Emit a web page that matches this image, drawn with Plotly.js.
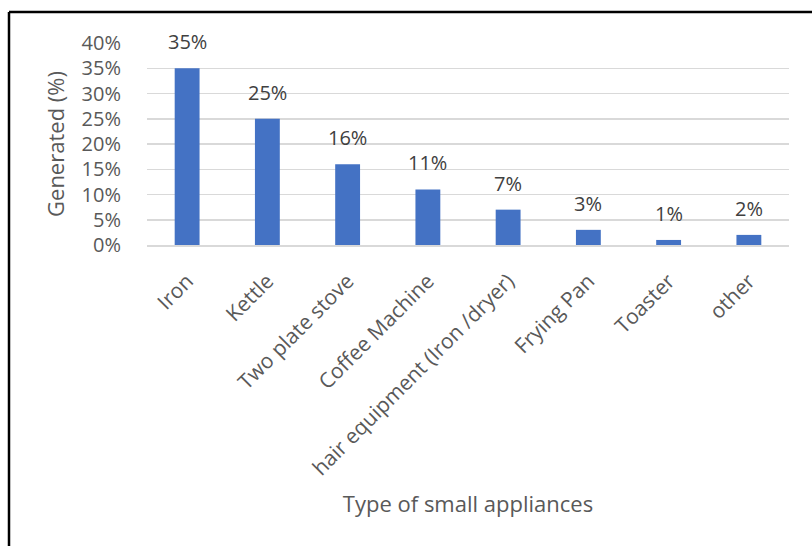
<!DOCTYPE html>
<html>
<head>
<meta charset="utf-8">
<script src="https://cdn.plot.ly/plotly-3.0.1.min.js"></script>
<style>
  html, body { margin: 0; padding: 0; background: #ffffff; }
  #chart { width: 812px; height: 546px; }
</style>
</head>
<body>
<div id="chart"></div>
<script>
// Share of generated small-appliance use, by appliance type
const categories = [
  'Iron',
  'Kettle',
  'Two plate stove',
  'Coffee Machine',
  'hair equipment (Iron /dryer)',
  'Frying Pan',
  'Toaster',
  'other'
];
const shares = [0.35, 0.25, 0.16, 0.11, 0.07, 0.03, 0.01, 0.02];
const yTickValues = [0, 0.05, 0.10, 0.15, 0.20, 0.25, 0.30, 0.35, 0.40];

const W = 812, H = 546;
const margin = { l: 147, r: 23, t: 43, b: 301 };
const plotW = W - margin.l - margin.r;
const plotH = H - margin.t - margin.b;
const px2x = px => (px - margin.l) / plotW;
const py2y = py => (H - margin.b - py) / plotH;

const FONT = 'Open Sans, Liberation Sans, sans-serif';
const pct = v => Math.round(v * 100) + '%';

const trace = {
  type: 'bar',
  x: categories,
  y: shares,
  marker: { color: '#4472C4' },
  hoverinfo: 'x+y'
};

// value labels above each bar
const labels = categories.map((c, i) => ({
  x: c,
  y: shares[i],
  xref: 'x',
  yref: 'y',
  text: pct(shares[i]),
  showarrow: false,
  yanchor: 'bottom',
  yshift: 11,
  font: { family: FONT, size: 20, color: '#404040' }
}));

// outer frame of the chart area
const frame = [
  { type: 'line', xref: 'paper', yref: 'paper',
    x0: px2x(9), x1: px2x(W + 5), y0: py2y(12), y1: py2y(12),
    line: { color: '#000000', width: 2.5 } },
  { type: 'line', xref: 'paper', yref: 'paper',
    x0: px2x(9), x1: px2x(9), y0: py2y(12), y1: py2y(H + 5),
    line: { color: '#000000', width: 2.5 } }
];

const layout = {
  width: W,
  height: H,
  margin: margin,
  paper_bgcolor: '#ffffff',
  plot_bgcolor: '#ffffff',
  showlegend: false,
  bargap: 0.69,
  font: { family: FONT, color: '#595959' },
  xaxis: {
    type: 'category',
    tickangle: -45,
    tickfont: { family: FONT, size: 21, color: '#595959' },
    ticks: 'outside',
    ticklen: 14,
    tickcolor: 'rgba(0,0,0,0)',
    showline: true,
    linecolor: '#d9d9d9',
    linewidth: 1.5,
    showgrid: false,
    automargin: false,
    title: {
      text: 'Type of small appliances',
      font: { family: FONT, size: 22, color: '#595959' },
      standoff: 16
    }
  },
  yaxis: {
    range: [0, 0.4],
    tickvals: yTickValues,
    ticktext: yTickValues.map(pct),
    tickfont: { family: FONT, size: 20, color: '#595959' },
    ticks: 'outside',
    ticklen: 21,
    tickcolor: 'rgba(0,0,0,0)',
    showgrid: true,
    gridcolor: '#d9d9d9',
    gridwidth: 1.5,
    zeroline: false,
    showline: false,
    automargin: false,
    title: {
      text: 'Generated (%)',
      font: { family: FONT, size: 22, color: '#595959' },
      standoff: 10
    }
  },
  annotations: labels,
  shapes: frame
};

Plotly.newPlot('chart', [trace], layout, { displayModeBar: false, staticPlot: true });
</script>
</body>
</html>
